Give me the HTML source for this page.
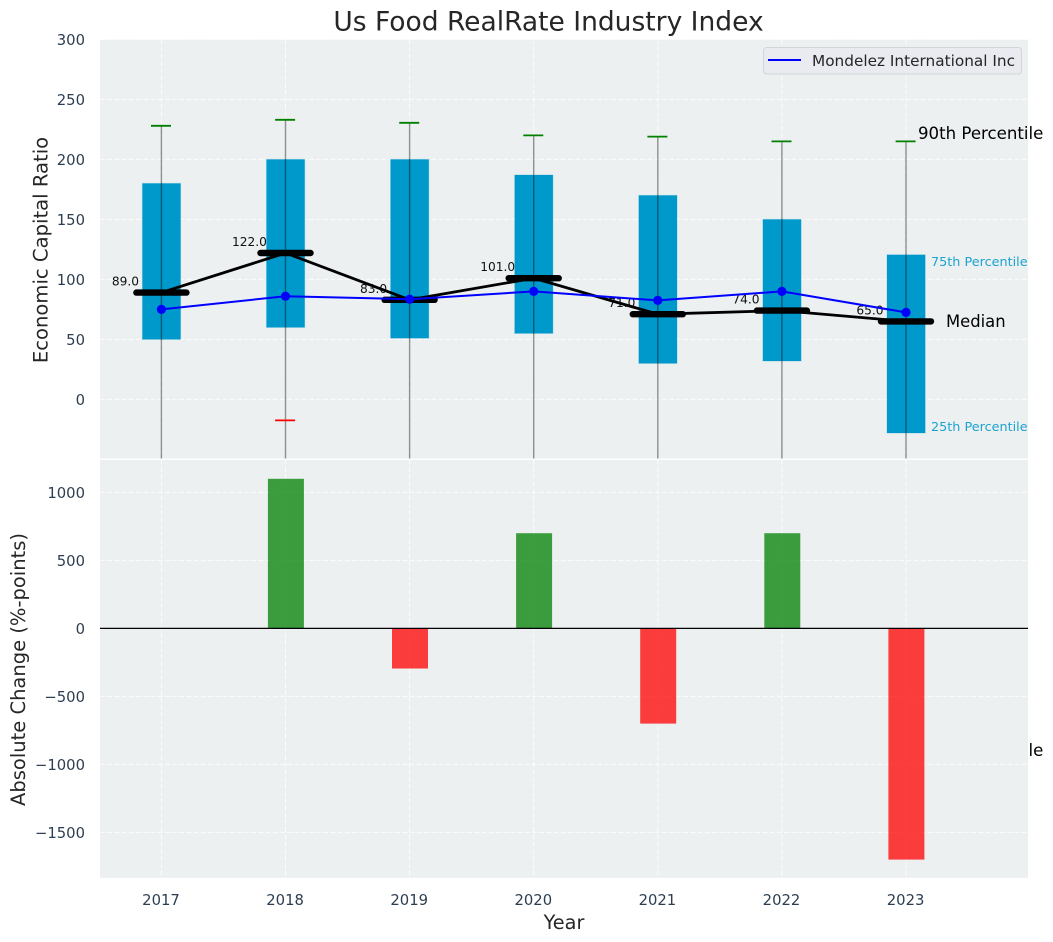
<!DOCTYPE html>
<html lang="en">
<head>
<meta charset="utf-8">
<title>Us Food RealRate Industry Index</title>
<style>
html,body{margin:0;padding:0;background:#fff;}
svg{display:block;font-family:"DejaVu Sans","Liberation Sans",sans-serif;}
</style>
</head>
<body>
<svg id="chart" xmlns="http://www.w3.org/2000/svg" width="1053" height="942" viewBox="0 0 1053 942">
  <defs>
    <clipPath id="top-clip"><rect x="100" y="39.5" width="928" height="419"/></clipPath>
    <clipPath id="bottom-clip"><rect x="100" y="459.8" width="928" height="418"/></clipPath>
  </defs>
  <text x="548.5" y="30.5" text-anchor="middle" font-size="26.5" fill="#262626">Us Food RealRate Industry Index</text>
  <rect x="100" y="39.5" width="928" height="419" fill="#ecf0f1"/>
  <g id="top-grid"></g>
  <g id="top-ticks"></g>
  <g id="median-labels"></g>
  <g id="boxes" clip-path="url(#top-clip)"></g>
  <g id="whiskers" clip-path="url(#top-clip)"></g>
  <g id="medians" clip-path="url(#top-clip)"></g>
  <g id="company" clip-path="url(#top-clip)"></g>
  <g id="legend">
    <rect x="763.5" y="47.5" width="258" height="26.5" rx="3" fill="#e9ebf0" stroke="#d3d5d8" stroke-width="1"/>
    <line x1="768" y1="60" x2="801" y2="60" stroke="#0000ff" stroke-width="2"/>
    <text x="812" y="66" font-size="15.3" fill="#262626">Mondelez International Inc</text>
  </g>
  <text x="918" y="139" font-size="16.6" fill="#000">90th Percentile</text>
  <text x="931" y="266" font-size="12.8" fill="#1ca3d0">75th Percentile</text>
  <text x="946" y="327" font-size="16.4" fill="#000">Median</text>
  <text x="931" y="431" font-size="12.8" fill="#1ca3d0">25th Percentile</text>
  <text x="918" y="756" font-size="16.6" fill="#000">10th Percentile</text>
  <rect x="100" y="459.8" width="928" height="418" fill="#ecf0f1"/>
  <g id="bottom-grid"></g>
  <g id="bottom-ticks"></g>
  <g id="change-bars" clip-path="url(#bottom-clip)"></g>
  <g id="zero-line-layer"></g>
  <g id="x-ticks"></g>
  <text x="564" y="929" text-anchor="middle" font-size="19.3" fill="#262626">Year</text>
  <text transform="translate(47.5 250) rotate(-90)" text-anchor="middle" font-size="19.6" fill="#262626">Economic Capital Ratio</text>
  <text transform="translate(25 669.5) rotate(-90)" text-anchor="middle" font-size="19.5" fill="#262626">Absolute Change (%-points)</text>
</svg>
<script>
const years = [2017, 2018, 2019, 2020, 2021, 2022, 2023];
const p90 = [228, 233, 230.5, 220, 219, 215, 215];
const p75 = [180, 200, 200, 187, 170, 150, 120.5];
const medianValues = [89, 122, 83, 101, 71, 74, 65];
const p25 = [50, 60, 51, 55, 30, 32, -28];
const p10 = [-120, -17.5, -120, -120, -120, -120, -120];
const whiskerBottom = [-120, -120, -120, -120, -120, -120, -120];
const companyValues = [75, 86, 83.5, 90, 82.5, 90, 72.5];
const changeValues = [0, 1100, -295, 700, -700, 700, -1700];
const topTickValues = [0, 50, 100, 150, 200, 250, 300];
const bottomTickValues = [-1500, -1000, -500, 0, 500, 1000];

const NS = 'http://www.w3.org/2000/svg';
function xScale(year) { return 161.4 + (year - 2017) * 124.1; }
function yTop(value) { return 399.4 - value * 1.2; }
function yBottom(value) { return 628.4 - value * 0.136; }
function make(tag, parentId, attrs, text) {
  const el = document.createElementNS(NS, tag);
  for (const key in attrs) el.setAttribute(key, attrs[key]);
  if (text !== undefined) el.textContent = text;
  document.getElementById(parentId).appendChild(el);
  return el;
}
function minusFormat(value) { return String(value).replace('-', '\u2212'); }
const gridStyle = { stroke: '#ffffff', 'stroke-width': 1, 'stroke-dasharray': '5 2.2', 'stroke-opacity': 0.8 };

topTickValues.forEach(function (value) {
  const gridLine = make('line', 'top-grid', Object.assign({ x1: 100, x2: 1028, y1: yTop(value), y2: yTop(value) }, gridStyle));
  
  
  const label = make('text', 'top-ticks', { x: 85, y: yTop(value) + 5.5, 'text-anchor': 'end', 'font-size': 14.8, fill: '#2c3e50' }, minusFormat(value));
  
  
});

bottomTickValues.forEach(function (value) {
  const gridLine = make('line', 'bottom-grid', Object.assign({ x1: 100, x2: 1028, y1: yBottom(value), y2: yBottom(value) }, gridStyle));
  
  
  const label = make('text', 'bottom-ticks', { x: 85, y: yBottom(value) + 5.5, 'text-anchor': 'end', 'font-size': 14.8, fill: '#2c3e50' }, minusFormat(value));
  
  
});

years.forEach(function (year, i) {
  const x = xScale(year);

  const gridTop = make('line', 'top-grid', Object.assign({ x1: x, x2: x, y1: 39.5, y2: 458.5 }, gridStyle));
  
  

  const gridBottom = make('line', 'bottom-grid', Object.assign({ x1: x, x2: x, y1: 459.8, y2: 877.8 }, gridStyle));
  
  

  const tick = make('text', 'x-ticks', { x: x - 0.4, y: 905, 'text-anchor': 'middle', 'font-size': 14.8, fill: '#2c3e50' }, String(year));
  
  

  const box = make('rect', 'boxes', { x: x - 19, width: 38.2, y: yTop(p75[i]), height: yTop(p25[i]) - yTop(p75[i]), fill: '#0099cc', stroke: '#0099cc', 'stroke-opacity': 0.25, 'stroke-width': 1 });
  
  

  const whisker = make('line', 'whiskers', { x1: x, x2: x, y1: yTop(p90[i]), y2: yTop(whiskerBottom[i]), stroke: '#000', 'stroke-opacity': 0.42, 'stroke-width': 1.4 });
  
  

  const capHigh = make('line', 'whiskers', { x1: x - 10.4, x2: x + 9.6, y1: yTop(p90[i]), y2: yTop(p90[i]), stroke: '#008000', 'stroke-width': 1.8 });
  
  

  const capLow = make('line', 'whiskers', { x1: x - 10.4, x2: x + 9.6, y1: yTop(p10[i]), y2: yTop(p10[i]), stroke: '#ff0000', 'stroke-width': 1.8 });
  
  

  const valueLabel = make('text', 'median-labels', { x: x - 36, y: yTop(medianValues[i]) - 7, 'text-anchor': 'middle', 'font-size': 12.2, fill: '#111' }, medianValues[i].toFixed(1));
  
  

  const medianBar = make('line', 'medians', { x1: x - 25, x2: x + 25, y1: yTop(medianValues[i]), y2: yTop(medianValues[i]), stroke: '#000', 'stroke-width': 6.4, 'stroke-linecap': 'round' });
  
  

  const marker = make('circle', 'company', { cx: x, cy: yTop(companyValues[i]), r: 4.6, fill: '#0000ff' });
  
  

  if (changeValues[i] !== 0) {
    const yZero = yBottom(0);
    const yValue = yBottom(changeValues[i]);
    const bar = make('rect', 'change-bars', { x: x - 17.6, width: 36, y: Math.min(yZero, yValue), height: Math.abs(yValue - yZero), fill: changeValues[i] > 0 ? '#008000' : '#ff0000', 'fill-opacity': 0.75 });
    
    
  }
});

const medianLine = make('polyline', 'medians', { points: years.map(function (year, i) { return xScale(year) + ',' + yTop(medianValues[i]); }).join(' '), fill: 'none', stroke: '#000', 'stroke-width': 2.8 });



const companyLine = make('polyline', 'company', { points: years.map(function (year, i) { return xScale(year) + ',' + yTop(companyValues[i]); }).join(' '), fill: 'none', stroke: '#0000ff', 'stroke-width': 2 });



const zeroLine = make('line', 'zero-line-layer', { x1: 100, x2: 1028, y1: yBottom(0), y2: yBottom(0), stroke: '#000', 'stroke-width': 1.2 });


</script>
</body>
</html>
